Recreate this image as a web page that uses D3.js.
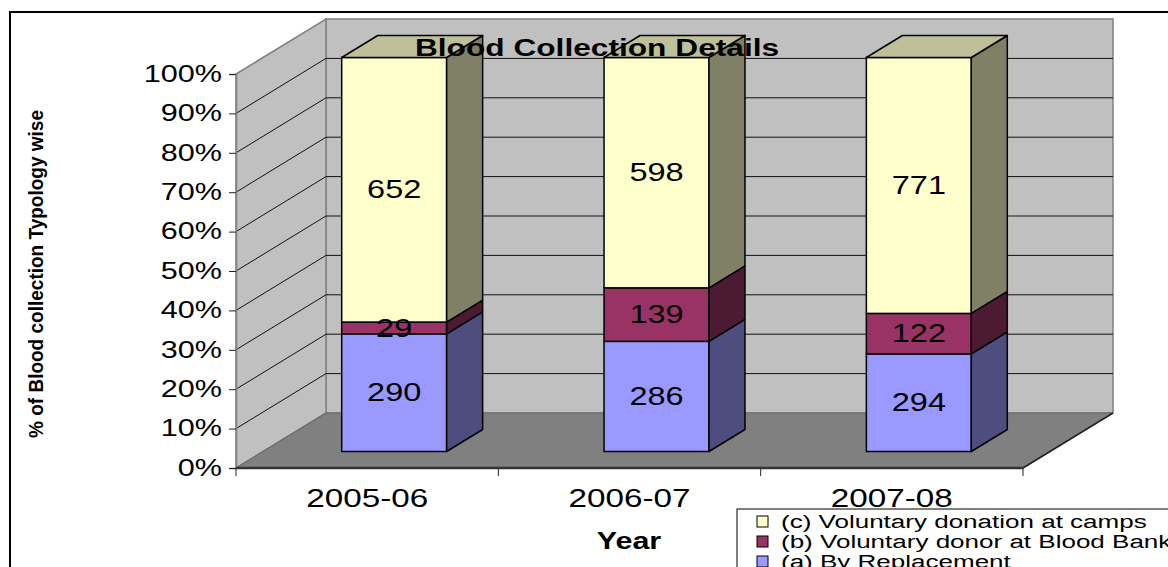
<!DOCTYPE html>
<html>
<head>
<meta charset="utf-8">
<script src="https://cdn.jsdelivr.net/npm/d3@7"></script>
<style>
  body { margin: 0; background: #fff; }
  text { font-family: "Liberation Sans", Arial, sans-serif; fill: #000; }
</style>
</head>
<body>
<div id="visualization"></div>
<script>
const width = 1168;
const height = 567;

// chart values
const years = ['2005-06', '2006-07', '2007-08'];
const byReplacement = [290, 286, 294];
const donorAtBank = [29, 139, 122];
const donationAtCamps = [652, 598, 771];
const seriesKeys = ['a', 'b', 'c'];
const seriesNames = ['(a) By Replacement', '(b) Voluntary donor at Blood Bank', '(c) Voluntary donation at camps'];
const yTicks = [0, 0.1, 0.2, 0.3, 0.4, 0.5, 0.6, 0.7, 0.8, 0.9, 1];

const frontColors = ['#9999FF', '#993366', '#FFFFCC'];
const sideColors = ['#4D4D80', '#4D1A33', '#808066'];
const topColors = ['#7373BF', '#73264D', '#BFBF99'];

// the picture is stretched sideways, so text is too
const stretch = 1.33;

// 3d layout: front plane plus a depth offset
const plot = { left: 236, right: 1023, bottom: 468, top: 74 };
const depth = { dx: 90, dy: -55 };
const barZ0 = 0.3;
const barZ1 = 0.7;
const barFrac = 0.4;

const rows = years.map((yr, i) => ({ year: yr, a: byReplacement[i], b: donorAtBank[i], c: donationAtCamps[i] }));
const stacked = d3.stack().keys(seriesKeys).offset(d3.stackOffsetExpand)(rows);

const xScale = d3.scaleBand().domain(years).range([plot.left, plot.right]);
const yScale = d3.scaleLinear().domain([0, 1]).range([plot.bottom, plot.top]);
const proj = (px, py, z) => [px + z * depth.dx, py + z * depth.dy];
const pts = arr => arr.map(p => p.join(',')).join(' ');

const svg = d3.select('#visualization')
  .append('svg')
  .attr('width', width)
  .attr('height', height);

// outer frame (runs off the page right and bottom)
svg.append('rect')
  .attr('x', 10).attr('y', 12)
  .attr('width', 1300).attr('height', 700)
  .attr('fill', 'white')
  .attr('stroke', '#000').attr('stroke-width', 2);

const x0 = plot.left, x1 = plot.right, yb = yScale(0), yt = yScale(1);

// back wall
svg.append('polygon')
  .attr('points', pts([proj(x0, yt, 1), proj(x1, yt, 1), proj(x1, yb, 1), proj(x0, yb, 1)]))
  .attr('fill', '#C0C0C0').attr('stroke', '#808080').attr('stroke-width', 1.5);

// left wall
svg.append('polygon')
  .attr('points', pts([[x0, yb], [x0, yt], proj(x0, yt, 1), proj(x0, yb, 1)]))
  .attr('fill', '#C0C0C0').attr('stroke', '#808080').attr('stroke-width', 1.5);

// gridlines on both walls
const grid = yTicks.filter(t => t > 0 && t < 1);
svg.append('g').selectAll('line.back')
  .data(grid).join('line')
  .attr('x1', d => proj(x0, yScale(d), 1)[0]).attr('y1', d => proj(x0, yScale(d), 1)[1])
  .attr('x2', d => proj(x1, yScale(d), 1)[0]).attr('y2', d => proj(x1, yScale(d), 1)[1])
  .attr('stroke', '#111').attr('stroke-width', 1);
svg.append('g').selectAll('line.side')
  .data(grid).join('line')
  .attr('x1', x0).attr('y1', d => yScale(d))
  .attr('x2', d => proj(x0, yScale(d), 1)[0]).attr('y2', d => proj(x0, yScale(d), 1)[1])
  .attr('stroke', '#111').attr('stroke-width', 1);

// floor
svg.append('polygon')
  .attr('points', pts([[x0, yb], [x1, yb], proj(x1, yb, 1), proj(x0, yb, 1)]))
  .attr('fill', '#808080').attr('stroke', '#666').attr('stroke-width', 1);
svg.append('line')
  .attr('x1', x1).attr('y1', yb)
  .attr('x2', proj(x1, yb, 1)[0]).attr('y2', proj(x1, yb, 1)[1])
  .attr('stroke', '#222').attr('stroke-width', 1.5);

// y axis
const yAxis = d3.axisLeft(yScale)
  .tickValues(yTicks)
  .tickSize(7)
  .tickPadding(7)
  .tickFormat(d => Math.round(d * 100) + '%');
const yAxisG = svg.append('g')
  .attr('transform', `translate(${x0}, 0)`)
  .call(yAxis);
yAxisG.select('.domain').attr('stroke', '#808080').attr('stroke-width', 1.5);
yAxisG.selectAll('.tick line').attr('stroke', '#222');
yAxisG.selectAll('.tick text')
  .attr('font-size', 23)
  .attr('font-family', '"Liberation Sans", Arial, sans-serif')
  .attr('x', -14 / stretch)
  .attr('transform', `scale(${stretch},1)`);

// x axis: labels at band centres, ticks at band edges
const xAxis = d3.axisBottom(xScale).tickSize(0).tickPadding(21);
const xAxisG = svg.append('g')
  .attr('transform', `translate(0, ${yb})`)
  .call(xAxis);
xAxisG.select('.domain').remove();
xAxisG.selectAll('.tick text')
  .attr('font-size', 25)
  .attr('font-family', '"Liberation Sans", Arial, sans-serif')
  .attr('transform', `scale(${stretch},1)`);
const edges = years.map(d => xScale(d)).concat([xScale.range()[1]]);
xAxisG.selectAll('.edgeTick')
  .data(edges).join('line')
  .attr('x1', d => d).attr('x2', d => d)
  .attr('y1', 0).attr('y2', 8)
  .attr('stroke', '#222');
svg.append('line')
  .attr('x1', x0).attr('x2', x1).attr('y1', yb).attr('y2', yb)
  .attr('stroke', '#333').attr('stroke-width', 2.5);

// helper for sideways-stretched text
function stretchedText(parent, px, py, str, size, bold, anchor, sx) {
  const g = parent.append('g').attr('transform', `translate(${px}, ${py}) scale(${sx || stretch},1)`);
  return g.append('text')
    .attr('text-anchor', anchor || 'middle')
    .attr('font-size', size)
    .attr('font-weight', bold ? 'bold' : 'normal')
    .text(str);
}

// bars
const bw = xScale.bandwidth() * barFrac;
const dz = barZ1 - barZ0;
years.forEach((yr, i) => {
  const barG = svg.append('g').attr('class', 'bar');
  const fx0 = xScale(yr) + (xScale.bandwidth() - bw) / 2 + barZ0 * depth.dx;
  const fx1 = fx0 + bw;
  stacked.forEach((layer, s) => {
    const seg = layer[i];
    const yBot = yScale(seg[0]) + barZ0 * depth.dy;
    const yTop = yScale(seg[1]) + barZ0 * depth.dy;
    barG.append('rect')
      .attr('x', fx0).attr('y', yTop)
      .attr('width', bw).attr('height', yBot - yTop)
      .attr('fill', frontColors[s]).attr('stroke', '#000').attr('stroke-width', 1.5);
    barG.append('polygon')
      .attr('points', pts([[fx1, yTop], [fx1 + dz * depth.dx, yTop + dz * depth.dy],
        [fx1 + dz * depth.dx, yBot + dz * depth.dy], [fx1, yBot]]))
      .attr('fill', sideColors[s]).attr('stroke', '#000').attr('stroke-width', 1.5)
      .attr('stroke-linejoin', 'round');
    if (s === stacked.length - 1) {
      barG.append('polygon')
        .attr('points', pts([[fx0, yTop], [fx1, yTop], [fx1 + dz * depth.dx, yTop + dz * depth.dy],
          [fx0 + dz * depth.dx, yTop + dz * depth.dy]]))
        .attr('fill', topColors[s]).attr('stroke', '#000').attr('stroke-width', 1.5)
        .attr('stroke-linejoin', 'round');
    }
  });
  // value labels
  stacked.forEach((layer, s) => {
    const seg = layer[i];
    const cy = (yScale(seg[0]) + yScale(seg[1])) / 2 + barZ0 * depth.dy;
    stretchedText(barG, (fx0 + fx1) / 2, cy, seg.data[seriesKeys[s]], 25, false, 'middle', 1.3)
      .attr('dominant-baseline', 'central');
  });
});

// title
stretchedText(svg, 597, 56, 'Blood Collection Details', 24, true, 'middle', 1.32);

// axis titles
stretchedText(svg, 629, 549, 'Year', 24, true, 'middle', 1.27);
svg.append('g')
  .attr('transform', `translate(43, 274) scale(1.3,1) rotate(-90)`)
  .append('text')
  .attr('text-anchor', 'middle')
  .attr('font-size', 16)
  .attr('font-weight', 'bold')
  .attr('textLength', 328)
  .attr('lengthAdjust', 'spacingAndGlyphs')
  .text('% of Blood collection Typology wise');

// legend (cut off at the page edge)
const legendG = svg.append('g').attr('transform', 'translate(737, 509)');
legendG.append('rect')
  .attr('x', 0).attr('y', 0).attr('width', 500).attr('height', 100)
  .attr('fill', 'white').attr('stroke', '#000').attr('stroke-width', 1);
const legendOrder = [2, 1, 0];
legendOrder.forEach((s, k) => {
  const ly = 19 + k * 20;
  legendG.append('rect')
    .attr('x', 20).attr('y', ly - 12).attr('width', 11).attr('height', 11)
    .attr('fill', frontColors[s]).attr('stroke', '#000').attr('stroke-width', 1);
  stretchedText(legendG, 44, ly, seriesNames[s], 19, false, 'start', 1.37);
});
</script>
</body>
</html>
